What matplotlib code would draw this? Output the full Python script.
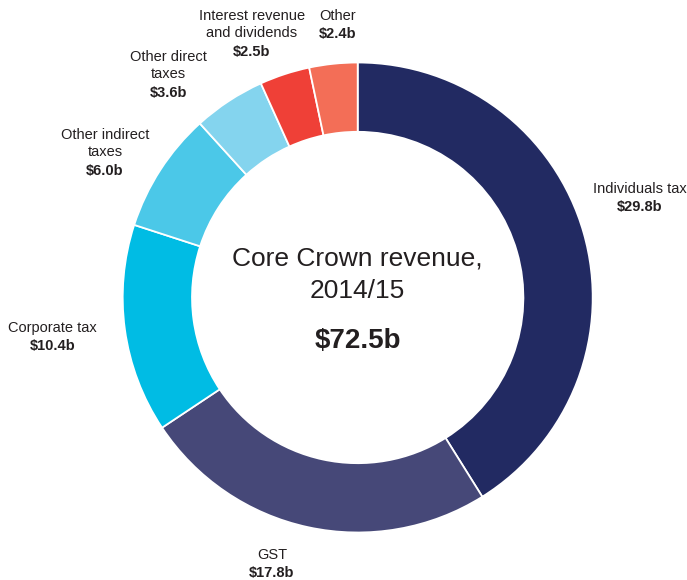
import matplotlib.pyplot as plt

plt.rcParams['font.family'] = ['Liberation Sans', 'DejaVu Sans']

categories = ['Individuals tax', 'GST', 'Corporate tax', 'Other indirect\ntaxes',
              'Other direct\ntaxes', 'Interest revenue\nand dividends', 'Other']
values = [29.8, 17.8, 10.4, 6.0, 3.6, 2.5, 2.4]
value_labels = ['$29.8b', '$17.8b', '$10.4b', '$6.0b', '$3.6b', '$2.5b', '$2.4b']
total_label = '$72.5b'
centre_title = 'Core Crown revenue,\n2014/15'

colors = ['#222a62', '#464878', '#00bce4', '#4bc8e8', '#84d4ee', '#ef4037', '#f36e57']
# label anchor points (top of the text block), in units of the outer radius
label_pos = [(1.20, 0.492), (-0.365, -1.064), (-1.30, -0.10), (-1.075, 0.722),
             (-0.805, 1.053), (-0.45, 1.228), (-0.085, 1.228)]

fig = plt.figure(figsize=(6.87, 5.80), dpi=100)
ax = fig.add_axes([0, 0, 1, 1])
R = 235.0
cx, cy = 357.7, 297.5

ax.pie(values, colors=colors, startangle=90, counterclock=False, radius=1.0,
       wedgeprops=dict(width=0.295, edgecolor='white', linewidth=1.3))
ax.set_xlim(-cx / R, (687 - cx) / R)
ax.set_ylim(-(580 - cy) / R, cy / R)
ax.set_aspect('auto')
ax.axis('off')

txt = '#231f20'
for cat, val, (x, y) in zip(categories, value_labels, label_pos):
    n = cat.count('\n') + 1
    ax.text(x, y, cat, ha='center', va='top', fontsize=10.5, color=txt,
            linespacing=1.3)
    ax.text(x, y - n * 0.0765, val, ha='center', va='top', fontsize=10.5,
            fontweight='bold', color=txt)

ax.text(0, 0.096, centre_title, ha='center', va='center', fontsize=19,
        color=txt, linespacing=1.42)
ax.text(0, -0.187, total_label, ha='center', va='center', fontsize=20,
        fontweight='bold', color=txt)

fig.savefig('out.png', dpi=100)
